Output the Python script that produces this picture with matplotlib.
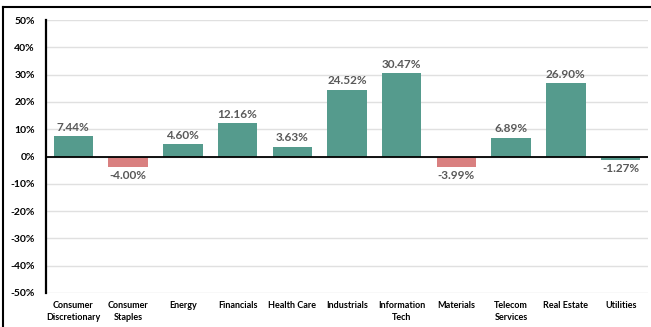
import matplotlib
matplotlib.use("Agg")
import matplotlib.pyplot as plt
from matplotlib.lines import Line2D
from matplotlib.ticker import FuncFormatter

sectors = [
    "Consumer\nDiscretionary", "Consumer\nStaples", "Energy", "Financials",
    "Health Care", "Industrials", "Information\nTech", "Materials",
    "Telecom\nServices", "Real Estate", "Utilities",
]
returns = [7.44, -4.00, 4.60, 12.16, 3.63, 24.52, 30.47, -3.99, 6.89, 26.90, -1.27]
bar_colors = ["#559b8d", "#d98080", "#559b8d", "#559b8d", "#559b8d", "#559b8d",
              "#559b8d", "#d98080", "#559b8d", "#559b8d", "#559b8d"]

plt.rcParams["font.family"] = ["Lato", "DejaVu Sans"]

fig = plt.figure(figsize=(6.51, 3.27), dpi=100)
ax = fig.add_axes([46 / 651, 34 / 327, 602 / 651, 273 / 327])

x = range(len(sectors))
ax.bar(x, returns, width=0.72, color=bar_colors, zorder=3)

for i, v in enumerate(returns):
    if v >= 0:
        ax.text(i, v + 1.2, f"{v:.2f}%", ha="center", va="bottom",
                fontsize=8.5, color="#595959", fontweight="bold")
    else:
        ax.text(i, v - 1.0, f"{v:.2f}%", ha="center", va="top",
                fontsize=8.5, color="#595959", fontweight="bold")

ax.set_ylim(-50, 50)
ax.set_xlim(-0.5, len(sectors) - 0.5)
ax.set_yticks(range(-50, 51, 10))
ax.yaxis.set_major_formatter(FuncFormatter(lambda v, _: f"{v:.0f}%"))
ax.set_xticks(list(x))
ax.set_xticklabels(sectors, fontsize=6.5, fontweight="bold", linespacing=1.35)
for lab in ax.get_yticklabels():
    lab.set_fontsize(7.5)
    lab.set_fontweight("bold")

ax.tick_params(axis="both", length=0)
ax.tick_params(axis="x", pad=6)
ax.tick_params(axis="y", pad=8)
ax.grid(axis="y", color="#e0e0e0", linewidth=1, zorder=0)
ax.axhline(0, color="black", linewidth=1.3, zorder=4)

for side in ["top", "right", "bottom"]:
    ax.spines[side].set_visible(False)
ax.spines["left"].set_linewidth(1.6)
ax.spines["left"].set_color("black")

# frame lines of the pasted chart
fig.add_artist(Line2D([3 / 651, 1], [1 - 7 / 327, 1 - 7 / 327], color="black", linewidth=1.5))
fig.add_artist(Line2D([3 / 651, 3 / 651], [0, 1 - 7 / 327], color="black", linewidth=1.5))

fig.savefig("out.png", dpi=100)
